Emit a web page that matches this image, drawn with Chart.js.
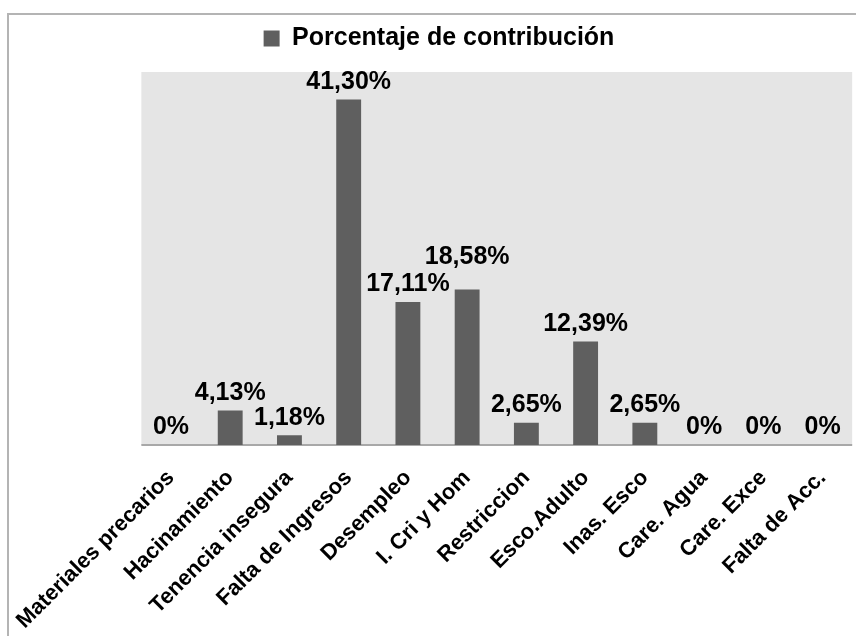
<!DOCTYPE html>
<html>
<head>
    <script src="https://cdn.jsdelivr.net/npm/chart.js@4.4.0/dist/chart.umd.min.js"></script>
    <style>
        body { margin: 0; background: #fff; }
        #wrap { position: absolute; left: 0; top: 0; width: 856px; height: 636px; }
    </style>
</head>
<body>
<div id="wrap"><canvas id="myChart"></canvas></div>

<script>
    const categories = ["Materiales precarios", "Hacinamiento", "Tenencia insegura", "Falta de Ingresos",
        "Desempleo", "I. Cri y Hom", "Restriccion", "Esco.Adulto", "Inas. Esco", "Care. Agua", "Care. Exce", "Falta de Acc."];
    const contribution = [0, 4.13, 1.18, 41.30, 17.11, 18.58, 2.65, 12.39, 2.65, 0, 0, 0];
    const seriesName = "Porcentaje de contribución";

    const FONT = "'Liberation Sans', Arial, sans-serif";

    // marco gris, fondo del area de trazado y linea base
    const framePlugin = {
        id: 'frame',
        beforeInit(chart) {
            // mas espacio entre la leyenda y el area de trazado
            const fit = chart.legend.fit;
            chart.legend.fit = function () {
                fit.bind(chart.legend)();
                this.height += 11;
            };
        },
        afterLayout(chart) {
            // la leyenda va un poco a la derecha del centro
            chart.legend.left += 4;
            chart.legend.right += 4;
        },
        beforeDraw(chart) {
            const ctx = chart.ctx, a = chart.chartArea;
            ctx.save();
            ctx.fillStyle = '#fff';
            ctx.fillRect(0, 0, chart.width, chart.height);
            ctx.strokeStyle = '#b4b4b4';
            ctx.lineWidth = 2;
            ctx.beginPath();
            ctx.moveTo(8, chart.height);
            ctx.lineTo(8, 14);
            ctx.lineTo(chart.width, 14);
            ctx.stroke();
            ctx.fillStyle = '#e5e5e5';
            ctx.fillRect(a.left, a.top, a.right - a.left, a.bottom - a.top);
            ctx.strokeStyle = '#a8a8a8';
            ctx.lineWidth = 2;
            ctx.beginPath();
            ctx.moveTo(a.left, a.bottom);
            ctx.lineTo(a.right, a.bottom);
            ctx.stroke();
            ctx.restore();
        }
    };

    // etiquetas de valor encima de cada barra
    const valueLabels = {
        id: 'valueLabels',
        afterDatasetsDraw(chart) {
            const ctx = chart.ctx;
            const meta = chart.getDatasetMeta(0);
            ctx.save();
            ctx.font = "bold 25px " + FONT;
            ctx.fillStyle = '#000';
            ctx.textAlign = 'center';
            ctx.textBaseline = 'bottom';
            meta.data.forEach((bar, i) => {
                const v = contribution[i];
                const txt = v === 0 ? '0%' : v.toFixed(2).replace('.', ',') + '%';
                const lift = i === 5 ? 20 : 5;
                ctx.fillText(txt, bar.x, bar.y - lift);
            });
            ctx.restore();
        }
    };

    const myChart = new Chart("myChart", {
        type: "bar",
        data: {
            labels: categories,
            datasets: [{
                label: seriesName,
                data: contribution,
                backgroundColor: '#5f5f5f',
                barPercentage: 0.42,
                categoryPercentage: 1
            }]
        },
        options: {
            responsive: true,
            maintainAspectRatio: false,
            animation: false,
            layout: { padding: { left: 15, right: 1, top: 16, bottom: 0 } },
            plugins: {
                tooltip: { enabled: false },
                legend: {
                    position: 'top',
                    labels: {
                        color: '#000',
                        font: { family: FONT, size: 25, weight: 'bold' },
                        boxWidth: 16,
                        boxHeight: 16,
                        padding: 10
                    }
                }
            },
            scales: {
                x: {
                    grid: { display: false, drawTicks: false },
                    border: { display: false },
                    afterFit(scale) { scale.height = 191; },
                    ticks: {
                        color: '#000',
                        font: { family: FONT, size: 22, weight: 'bold' },
                        minRotation: 45,
                        maxRotation: 45,
                        autoSkip: false,
                        padding: 20
                    }
                },
                y: {
                    display: false,
                    min: 0,
                    max: 44.6
                }
            }
        },
        plugins: [framePlugin, valueLabels]
    });
</script>
</body>
</html>
